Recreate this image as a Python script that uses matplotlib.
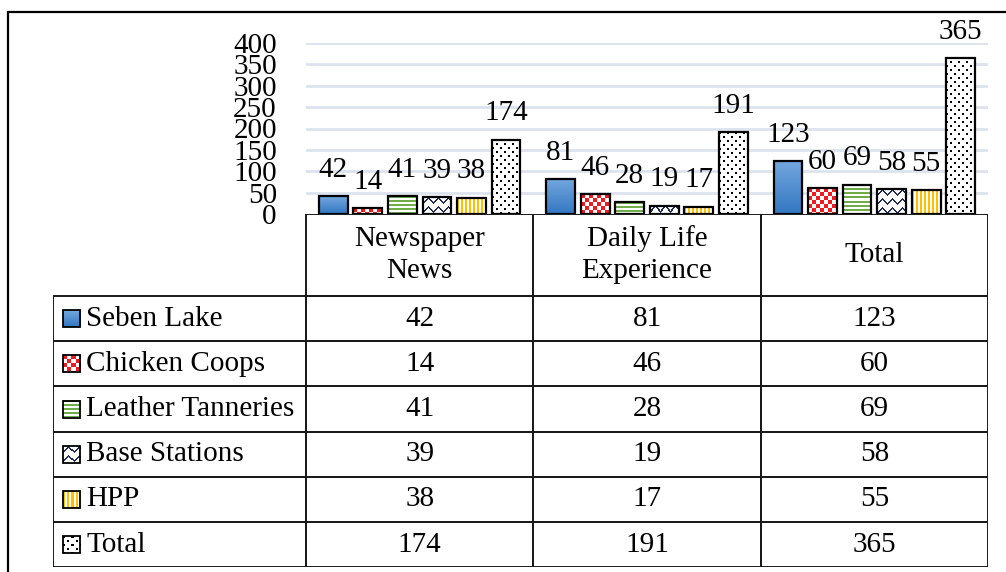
import numpy as np
import matplotlib
matplotlib.use("Agg")
import matplotlib.pyplot as plt
from matplotlib.patches import Rectangle

plt.rcParams["font.family"] = ["Liberation Serif", "DejaVu Serif"]
FS = 21

categories = ["Newspaper\nNews", "Daily Life\nExperience", "Total"]
series = ["Seben Lake", "Chicken Coops", "Leather Tanneries", "Base Stations", "HPP", "Total"]
seben_lake = [42, 81, 123]
chicken_coops = [14, 46, 60]
leather_tanneries = [41, 28, 69]
base_stations = [39, 19, 58]
hpp = [38, 17, 55]
total = [174, 191, 365]
values = [seben_lake, chicken_coops, leather_tanneries, base_stations, hpp, total]
yticks = [0, 50, 100, 150, 200, 250, 300, 350, 400]
fills = ["gradient", "checker", "hstripe", "zigzag", "vstripe", "dots"]

W, H = 1006, 572


def texture(kind, h, w):
    h, w = max(int(round(h)), 1), max(int(round(w)), 1)
    i, j = np.mgrid[0:h, 0:w]
    rgb = np.ones((h, w, 3))
    if kind == "gradient":
        t = (i / max(h - 1, 1))[..., None]
        top, bot = np.array([0.45, 0.65, 0.87]), np.array([0.20, 0.47, 0.76])
        rgb = top * (1 - t) + bot * t
    elif kind == "checker":
        rgb[((i // 4 + j // 4) % 2) == 0] = (0.93, 0.11, 0.14)
    elif kind == "hstripe":
        rgb[(i % 4) < 2] = (0.44, 0.68, 0.28)
    elif kind == "vstripe":
        rgb[(j % 4) < 2] = (1.0, 0.75, 0.0)
    elif kind == "zigzag":
        tri = np.abs((j % 10) - 5)
        rgb[((i - tri) % 9) < 2] = (0.12, 0.17, 0.35)
    elif kind == "dots":
        m = ((i % 8 < 2) & (j % 8 < 2)) | (((i + 4) % 8 < 2) & ((j + 4) % 8 < 2))
        rgb[m] = (0, 0, 0)
    return rgb


def paint(ax, x0, y0, w, h, kind, z):
    p0 = ax.transData.transform((x0, y0))
    p1 = ax.transData.transform((x0 + w, y0 + h))
    img = texture(kind, abs(p1[1] - p0[1]), abs(p1[0] - p0[0]))
    top, bot = (y0 + h, y0) if p1[1] > p0[1] else (y0, y0 + h)
    ax.imshow(img, extent=[x0, x0 + w, bot, top], origin="upper",
              interpolation="nearest", aspect="auto", zorder=z)


fig = plt.figure(figsize=(W / 100, H / 100), dpi=100)

# outer frame (cut off at right / bottom like the reference)
fig.patches.append(Rectangle((8 / W, -0.1), 1.2, (H - 12) / H + 0.1, transform=fig.transFigure,
                             fill=False, edgecolor="black", lw=1.6))

# bar chart
ax = fig.add_axes([306 / W, (H - 214) / H, 682 / W, 171 / H])
xlim, ylim = (-0.5, 2.5), (0, 400)
ax.set_xlim(xlim); ax.set_ylim(ylim)
for s in ax.spines.values(): s.set_visible(False)
ax.set_xticks([])
ax.set_yticks(yticks)
ax.set_yticklabels([str(v) for v in yticks], fontsize=FS)
ax.tick_params(axis="y", length=0, pad=21)
for v in yticks[1:]:
    ax.axhline(v, color="#dde3ee", lw=2, zorder=0)

x = np.arange(len(categories))
bw, step = 0.127, 0.152
for k, (name, vals) in enumerate(zip(series, values)):
    bars = ax.bar(x + (k - 2.5) * step, vals, bw, facecolor="none", edgecolor="black",
                  lw=1.6, zorder=3)
    for b, v in zip(bars, vals):
        paint(ax, b.get_x(), 0, b.get_width(), v, fills[k], 2)
        ax.annotate(str(v), (b.get_x() + b.get_width() / 2, v), xytext=(0, 14),
                    textcoords="offset points", ha="center", va="baseline",
                    fontsize=FS, annotation_clip=False)
ax.set_xlim(xlim); ax.set_ylim(ylim)

# data table
tx = fig.add_axes([53 / W, (H - 567) / H, 935 / W, 353 / H])
lab_left = -0.5 - 253 / 227.33
tx.set_xlim(lab_left, 2.5); tx.set_ylim(353, 0)
tx.axis("off")
head_h, row_h = 82, 45.2
ec, lw = "#1a1a1a", 1.4
for c, cat in enumerate(categories):
    tx.add_patch(Rectangle((c - 0.5, 0), 1, head_h, fill=False, edgecolor=ec, lw=lw))
    tx.text(c, head_h / 2, cat, ha="center", va="center", fontsize=FS, linespacing=1.3)
for r, (name, vals) in enumerate(zip(series, values)):
    y0 = head_h + r * row_h
    tx.add_patch(Rectangle((lab_left, y0), -0.5 - lab_left, row_h, fill=False,
                           edgecolor=ec, lw=lw))
    # legend key
    kx, kw = lab_left + 10 / 227.33, 17 / 227.33
    ky = y0 + row_h / 2 - 8.5
    paint(tx, kx, ky, kw, 17, fills[r], 2)
    tx.add_patch(Rectangle((kx, ky), kw, 17, fill=False, edgecolor="black", lw=1.3, zorder=3))
    tx.text(lab_left + 33 / 227.33, y0 + row_h / 2, name, ha="left", va="center", fontsize=FS)
    for c, v in enumerate(vals):
        tx.add_patch(Rectangle((c - 0.5, y0), 1, row_h, fill=False, edgecolor=ec, lw=lw))
        tx.text(c, y0 + row_h / 2, str(v), ha="center", va="center", fontsize=FS)
tx.set_xlim(lab_left, 2.5); tx.set_ylim(353, 0)

fig.savefig("out.png", dpi=100)
